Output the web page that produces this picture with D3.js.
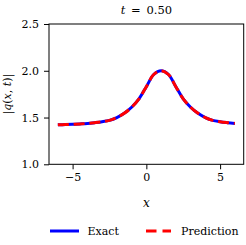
<!DOCTYPE html>
<html><head><meta charset="utf-8">
<script src="https://cdn.jsdelivr.net/npm/d3@7"></script>
<style>body{margin:0;background:#fff}svg{display:block}</style>
</head><body>
<script>
const xValues = [-6,-5.5,-5,-4.5,-4,-3.5,-3,-2.5,-2,-1.5,-1,-0.5,0,0.5,1,1.5,2,2.5,3,3.5,4,4.5,5,5.5,6];
const exactValues = [1.422,1.425,1.428,1.432,1.437,1.445,1.455,1.47,1.50,1.545,1.61,1.70,1.83,1.96,2.00,1.96,1.83,1.70,1.61,1.545,1.50,1.47,1.455,1.445,1.437];
const predValues = exactValues.slice();
const xTicks = [-5,0,5];
const yTicks = [1.0,1.5,2.0,2.5];
const FF = "DejaVu Serif, serif";
const FS = 11;
const W=246,H=245, L=49, R=243.7, T=24, B=164.3;
const svg=d3.select("body").append("svg").attr("width",W).attr("height",H).attr("font-family",FF);
const x=d3.scaleLinear().domain([-6.6,6.6]).range([L,R]);
const y=d3.scaleLinear().domain([1.0,2.5]).range([B,T]);
const line=d3.line().x((d,i)=>x(xValues[i])).y(d=>y(d)).curve(d3.curveCatmullRom);
svg.append("path").datum(exactValues).attr("d",line).attr("fill","none").attr("stroke","#0000ff").attr("stroke-width",3);
svg.append("path").datum(predValues).attr("d",line).attr("fill","none").attr("stroke","#ff0000").attr("stroke-width",3).attr("stroke-dasharray","11,4.8");
svg.append("rect").attr("x",L).attr("y",T).attr("width",R-L).attr("height",B-T).attr("fill","none").attr("stroke","#000").attr("stroke-width",1);
const xa=svg.append("g").attr("transform",`translate(0,${B})`).call(d3.axisBottom(x).tickValues(xTicks).tickSize(5).tickPadding(4).tickFormat(d=>d<0?"\u2212"+Math.abs(d):d));
xa.attr("font-family",FF).attr("font-size",FS);
xa.select(".domain").remove();
xa.selectAll("text").attr("fill","#000");
const ya=svg.append("g").attr("transform",`translate(${L},0)`).call(d3.axisLeft(y).tickValues(yTicks).tickSize(5).tickPadding(5).tickFormat(d3.format(".1f")));
ya.attr("font-family",FF).attr("font-size",FS);
ya.select(".domain").remove();
ya.selectAll("text").attr("fill","#000");
svg.selectAll(".tick line").attr("stroke","#000");
const cx=(L+R)/2;
const title=svg.append("text").attr("x",cx).attr("y",13.5).attr("text-anchor","middle").attr("font-size",11.5);
title.append("tspan").attr("font-style","italic").text("t");
title.append("tspan").text("\u2002=\u20020.50");
svg.append("text").attr("x",cx).attr("y",207).attr("text-anchor","middle").attr("font-size",12).attr("font-style","italic").text("x");
const yl=svg.append("text").attr("transform",`translate(11,${(T+B)/2}) rotate(-90)`).attr("text-anchor","middle").attr("font-size",FS);
yl.append("tspan").text("|");
yl.append("tspan").attr("font-style","italic").text("q");
yl.append("tspan").text("(");
yl.append("tspan").attr("font-style","italic").text("x");
yl.append("tspan").text(", ");
yl.append("tspan").attr("font-style","italic").text("t");
yl.append("tspan").text(")|");
const lg=svg.append("g");
lg.append("line").attr("x1",50).attr("x2",79).attr("y1",231).attr("y2",231).attr("stroke","#0000ff").attr("stroke-width",3);
lg.append("text").attr("x",87.5).attr("y",235).attr("font-size",FS).text("Exact");
lg.append("line").attr("x1",146).attr("x2",171).attr("y1",231).attr("y2",231).attr("stroke","#ff0000").attr("stroke-width",3).attr("stroke-dasharray","10.5,6");
lg.append("text").attr("x",181).attr("y",235).attr("font-size",FS).text("Prediction");
</script>
</body></html>
